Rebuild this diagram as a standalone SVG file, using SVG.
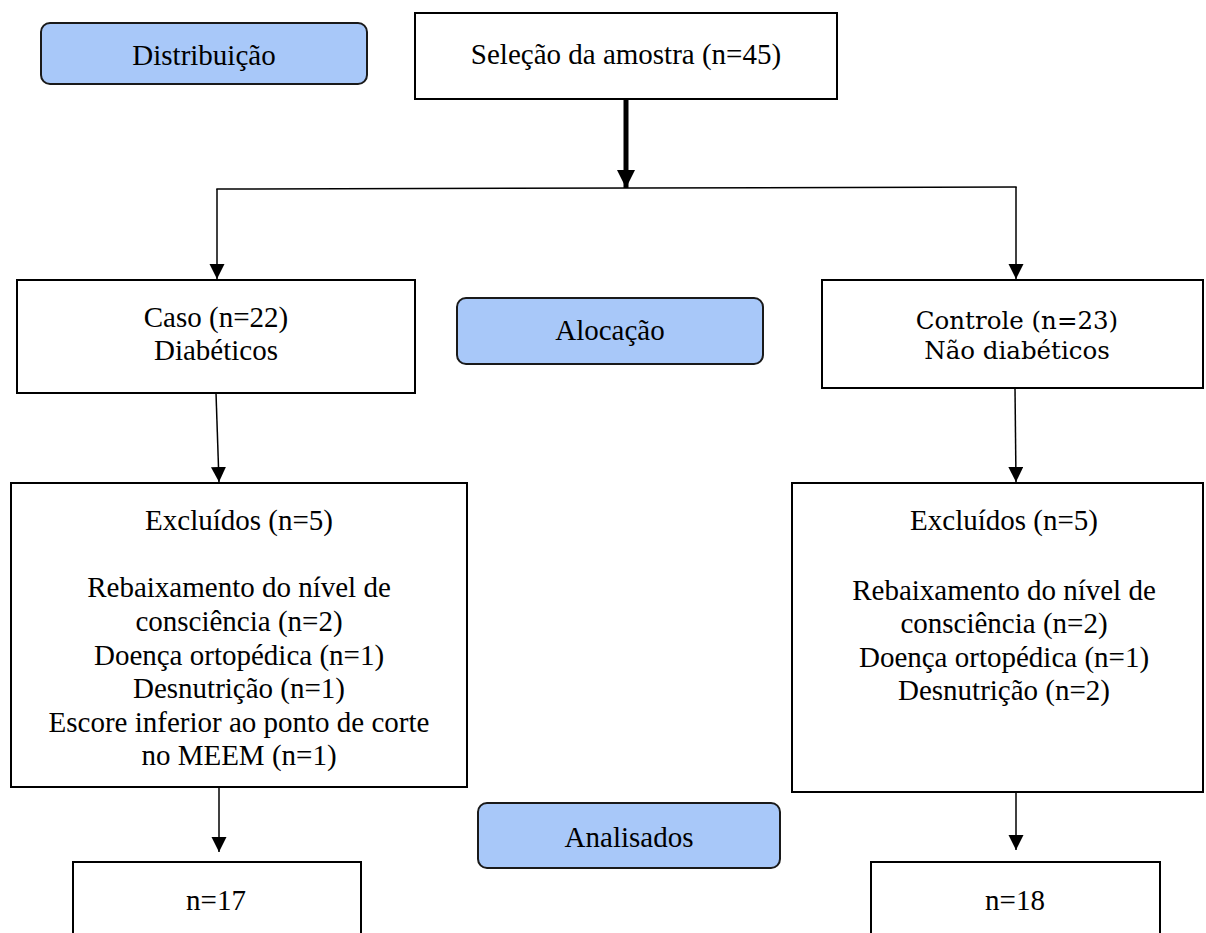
<svg xmlns="http://www.w3.org/2000/svg" width="1206" height="933" viewBox="0 0 1206 933">
<style>
.box{fill:#fff;stroke:#000;stroke-width:2}
.phase{fill:#a8c8f9;stroke:#1a1a1a;stroke-width:2}
.t{font-family:"Liberation Serif","Times New Roman",serif;font-size:29px;fill:#000;text-anchor:middle}
.c{font-family:"DejaVu Serif",Cambria,serif;font-size:24.5px;fill:#000;text-anchor:middle}
.ln{stroke:#000;stroke-width:1.5;fill:none}
</style>
<defs>
<marker id="ah" markerUnits="userSpaceOnUse" markerWidth="16" markerHeight="16" refX="15" refY="7.5" orient="auto">
<path d="M0,0 L15,7.5 L0,15 Z" fill="#000"/>
</marker>
<marker id="ahb" markerUnits="userSpaceOnUse" markerWidth="20" markerHeight="20" refX="18" refY="9" orient="auto">
<path d="M0,0 L18,9 L0,18 Z" fill="#000"/>
</marker>
</defs>
<g id="connectors">
<line x1="626" y1="99" x2="626" y2="188" stroke="#000" stroke-width="5" marker-end="url(#ahb)"/>
<line class="ln" x1="216.3" y1="189" x2="1016.7" y2="187"/>
<line class="ln" x1="217" y1="189" x2="217" y2="279" marker-end="url(#ah)"/>
<line class="ln" x1="1016" y1="187" x2="1016" y2="279" marker-end="url(#ah)"/>
<line class="ln" x1="216" y1="393" x2="219" y2="482" marker-end="url(#ah)"/>
<line class="ln" x1="1015" y1="388" x2="1016" y2="482" marker-end="url(#ah)"/>
<line class="ln" x1="219" y1="787" x2="219" y2="852" marker-end="url(#ah)"/>
<line class="ln" x1="1016" y1="792" x2="1016" y2="850" marker-end="url(#ah)"/>
</g>
<g id="distribuicao">
<rect class="phase" x="41" y="23" width="326" height="61" rx="9"/>
<text class="t" x="204" y="65">Distribuição</text>
</g>
<g id="selecao">
<rect class="box" x="415" y="13" width="422" height="86"/>
<text class="t" x="626" y="64">Seleção da amostra (n=45)</text>
</g>
<g id="caso">
<rect class="box" x="17" y="280" width="398" height="113"/>
<text class="t" x="216" y="327">Caso (n=22)</text>
<text class="t" x="216" y="360">Diabéticos</text>
</g>
<g id="alocacao">
<rect class="phase" x="457" y="298" width="306" height="66" rx="9"/>
<text class="t" x="610" y="340">Alocação</text>
</g>
<g id="controle">
<rect class="box" x="822" y="280" width="381" height="108"/>
<text class="c" x="1017" y="329">Controle (n=23)</text>
<text class="c" x="1017" y="359">Não diabéticos</text>
</g>
<g id="excluidos-caso">
<rect class="box" x="11" y="483" width="456" height="304"/>
<text class="t" x="239" y="530">Excluídos (n=5)</text>
<text class="t" x="239" y="597">Rebaixamento do nível de</text>
<text class="t" x="239" y="631">consciência (n=2)</text>
<text class="t" x="239" y="665">Doença ortopédica (n=1)</text>
<text class="t" x="239" y="698">Desnutrição (n=1)</text>
<text class="t" x="239" y="732">Escore inferior ao ponto de corte</text>
<text class="t" x="239" y="765">no MEEM (n=1)</text>
</g>
<g id="excluidos-controle">
<rect class="box" x="792" y="483" width="411" height="309"/>
<text class="t" x="1004" y="530">Excluídos (n=5)</text>
<text class="t" x="1004" y="600">Rebaixamento do nível de</text>
<text class="t" x="1004" y="633">consciência (n=2)</text>
<text class="t" x="1004" y="667">Doença ortopédica (n=1)</text>
<text class="t" x="1004" y="700">Desnutrição (n=2)</text>
</g>
<g id="analisados">
<rect class="phase" x="478" y="803" width="302" height="65" rx="9"/>
<text class="t" x="629" y="847">Analisados</text>
</g>
<g id="n17">
<rect class="box" x="73" y="862" width="288" height="90"/>
<text class="t" x="216" y="910">n=17</text>
</g>
<g id="n18">
<rect class="box" x="871" y="862" width="289" height="90"/>
<text class="t" x="1015" y="910">n=18</text>
</g>
</svg>
